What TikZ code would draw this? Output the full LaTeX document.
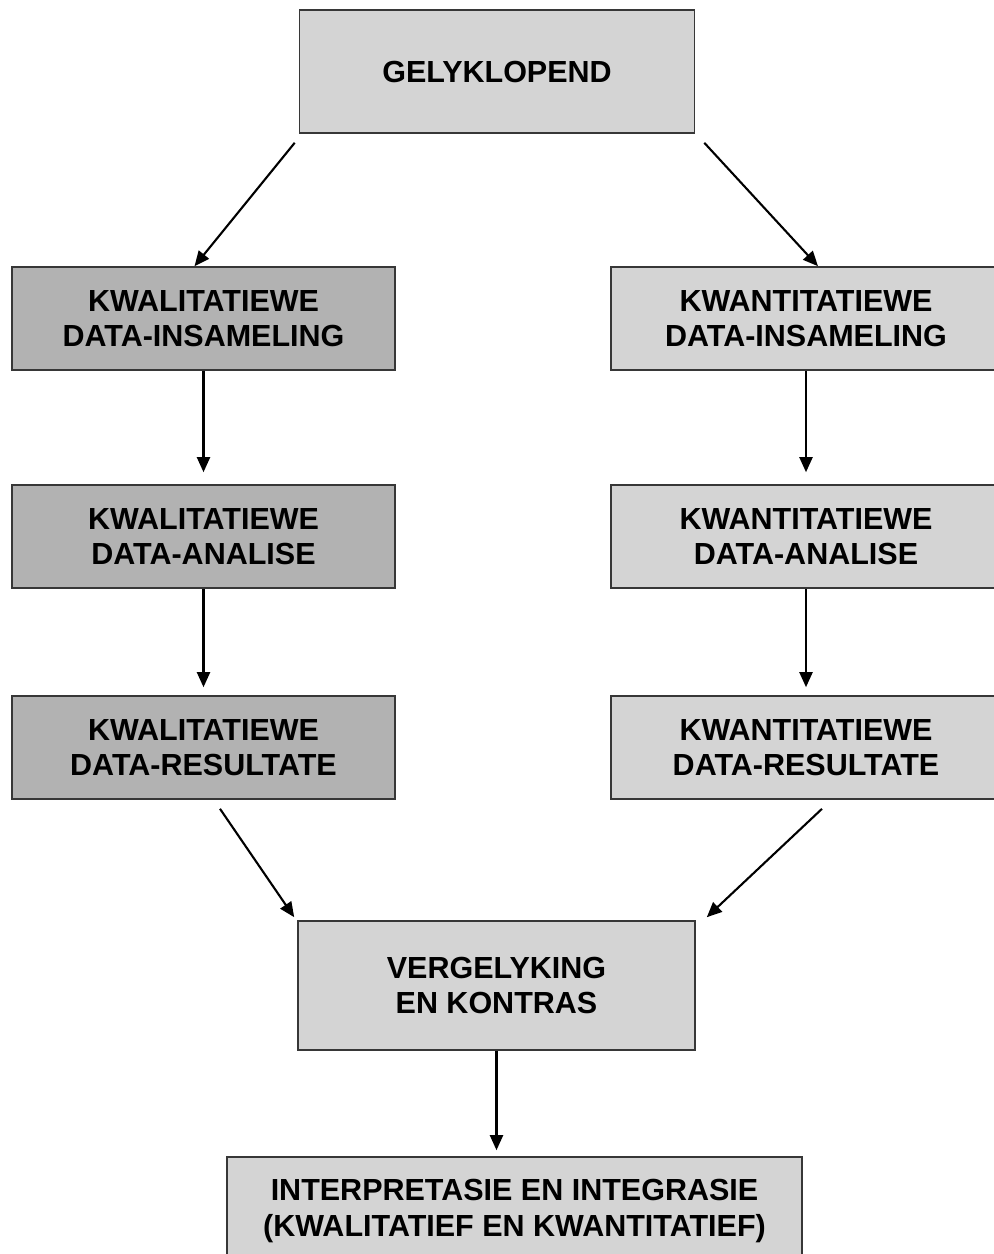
\documentclass[tikz,border=0pt]{standalone}
\usepackage{fontspec}
\setmainfont{Liberation Sans}
\usetikzlibrary{arrows.meta,calc}
\definecolor{boxlight}{RGB}{212,212,212}
\definecolor{boxdark}{RGB}{178,178,178}
\definecolor{boxedge}{RGB}{55,55,55}
\begin{document}
\begin{tikzpicture}[x=1pt,y=-1pt,
  box/.style={draw=boxedge,line width=1.6pt,inner sep=0pt,align=center,
    font=\fontsize{30.5}{35.5}\selectfont\bfseries},
  lightbox/.style={box,fill=boxlight},
  darkbox/.style={box,fill=boxdark},
  arr/.style={line width=2.1pt,-{Triangle[length=15pt,width=13pt]}}]
\useasboundingbox (0,0) rectangle (994,1254);
\clip (0,0) rectangle (994,1254);
\fill[white] (0,0) rectangle (994,1254);

\node[lightbox,minimum width=395pt,minimum height=123pt] (top) at (497,71.5) {GELYKLOPEND};

\node[darkbox,minimum width=383pt,minimum height=103pt] (L1) at (203.5,318.5) {KWALITATIEWE\\DATA-INSAMELING};
\node[darkbox,minimum width=383pt,minimum height=103pt] (L2) at (203.5,536.5) {KWALITATIEWE\\DATA-ANALISE};
\node[darkbox,minimum width=383pt,minimum height=103pt] (L3) at (203.5,747.5) {KWALITATIEWE\\DATA-RESULTATE};

\node[lightbox,minimum width=390pt,minimum height=103pt] (R1) at (806,318.5) {KWANTITATIEWE\\DATA-INSAMELING};
\node[lightbox,minimum width=390pt,minimum height=103pt] (R2) at (806,536.5) {KWANTITATIEWE\\DATA-ANALISE};
\node[lightbox,minimum width=390pt,minimum height=103pt] (R3) at (806,747.5) {KWANTITATIEWE\\DATA-RESULTATE};

\node[lightbox,minimum width=397pt,minimum height=129pt] (mid) at (496.5,985.5) {VERGELYKING\\EN KONTRAS};

\node[lightbox,minimum width=575pt,minimum height=108pt] (bot) at (514.5,1211) {INTERPRETASIE EN INTEGRASIE\\(KWALITATIEF EN KWANTITATIEF)};

\draw[arr] ($(top.south west)+(-4,9)$) -- ($(L1.north)+(-9,0)$);
\draw[arr] ($(top.south east)+(9,9)$) -- ($(R1.north)+(12,0)$);

\draw[arr] (L1.south) -- ($(L2.north)+(0,-12)$);
\draw[arr] (L2.south) -- ($(L3.north)+(0,-8)$);
\draw[arr] (R1.south) -- ($(R2.north)+(0,-12)$);
\draw[arr] (R2.south) -- ($(R3.north)+(0,-8)$);

\draw[arr] ($(L3.south)+(16.5,9)$) -- ($(mid.north west)+(-3,-3)$);
\draw[arr] ($(R3.south)+(16,9)$) -- ($(mid.north east)+(11,-3)$);

\draw[arr] (mid.south) -- ($(mid.south |- bot.north)+(0,-6)$);
\end{tikzpicture}
\end{document}
